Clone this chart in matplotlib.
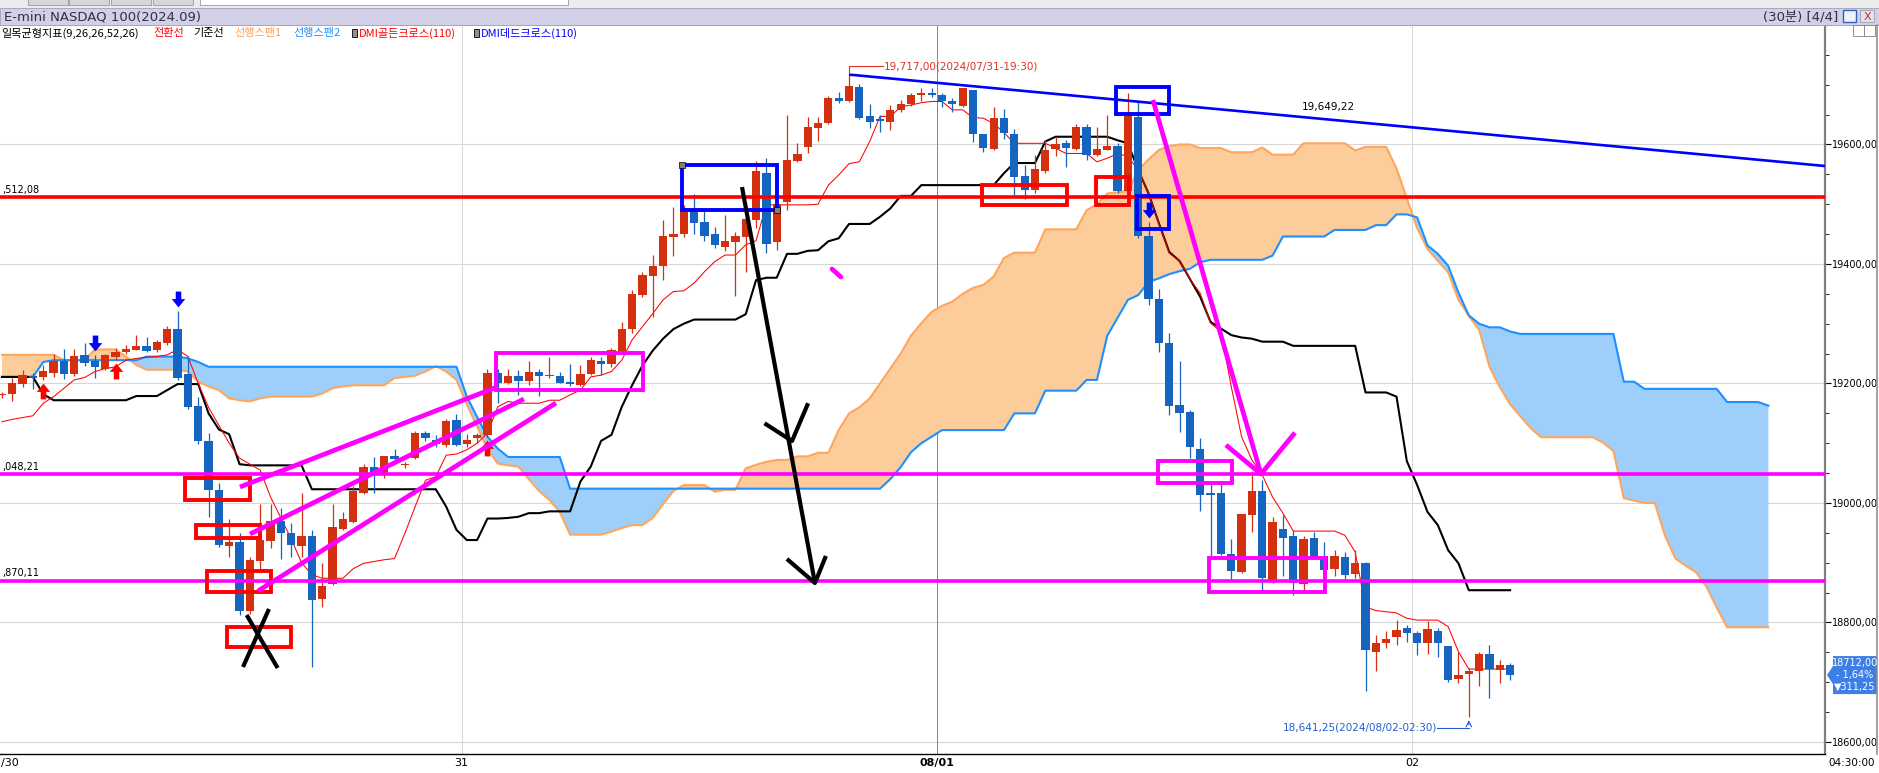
import numpy as np
import matplotlib
matplotlib.use("Agg")
import matplotlib.pyplot as plt
from matplotlib.patches import Rectangle, Polygon
from matplotlib.path import Path
from matplotlib import transforms

plt.rcParams['font.family'] = ['DejaVu Sans', 'Noto Sans CJK KR']

# ---------------- data (30분봉, bar 0 = 첫 봉 of 7/31) ----------------
first_bar = -44
opens = [19180, 19182, 19199, 19213, 19211, 19218, 19238, 19216, 19248, 19238,
         19225, 19244, 19252, 19256, 19263, 19256, 19268, 19291, 19216, 19162,
         19103, 19022, 18928, 18935, 18820, 18903, 18937, 18970, 18949, 18928,
         18945, 18839, 18865, 18957, 18969, 19017, 19061, 19048, 19079, 19063,
         19076, 19117, 19106, 19097, 19139, 19099, 19108, 19114, 19218, 19200,
         19212, 19205, 19220, 19212, 19212, 19202, 19197, 19216, 19238, 19232,
         19255, 19292, 19348, 19380, 19396, 19446, 19450, 19491, 19471, 19450,
         19429, 19437, 19446, 19474, 19553, 19436, 19503, 19573, 19595, 19628,
         19636, 19677, 19673, 19697, 19647, 19641, 19638, 19657, 19668, 19683,
         19687, 19683, 19673, 19665, 19692, 19617, 19592, 19644, 19617, 19547,
         19524, 19556, 19592, 19602, 19592, 19630, 19582, 19591, 19597, 19523,
         19646, 19447, 19341, 19267, 19164, 19152, 19091, 19016, 19016, 18915,
         18885, 18980, 19020, 18871, 18956, 18944, 18864, 18941, 18911, 18889,
         18909, 18881, 18899, 18751, 18765, 18775, 18790, 18782, 18766, 18786,
         18761, 18705, 18713, 18718, 18748, 18721, 18729]
highs = [19186, 19210, 19222, 19218, 19231, 19250, 19257, 19257, 19267, 19248,
         19250, 19259, 19264, 19281, 19278, 19273, 19296, 19322, 19246, 19178,
         19117, 19033, 18974, 18949, 18910, 18999, 18999, 18991, 18966, 19017,
         18955, 18900, 18999, 18985, 19028, 19066, 19077, 19079, 19091, 19068,
         19121, 19121, 19113, 19141, 19149, 19116, 19117, 19225, 19225, 19225,
         19222, 19238, 19225, 19244, 19220, 19232, 19231, 19244, 19244, 19260,
         19303, 19357, 19386, 19415, 19474, 19496, 19499, 19517, 19488, 19462,
         19482, 19454, 19485, 19572, 19577, 19507, 19649, 19603, 19646, 19646,
         19682, 19688, 19717, 19702, 19668, 19649, 19666, 19675, 19687, 19694,
         19694, 19686, 19677, 19694, 19692, 19617, 19663, 19660, 19626, 19566,
         19583, 19607, 19612, 19607, 19634, 19634, 19630, 19650, 19602, 19686,
         19672, 19471, 19358, 19284, 19238, 19156, 19108, 19034, 19036, 18939,
         18981, 19054, 19038, 18976, 18980, 18954, 18944, 18952, 18934, 18921,
         18918, 18921, 18902, 18779, 18785, 18804, 18796, 18785, 18803, 18790,
         18761, 18751, 18723, 18751, 18762, 18738, 18732]
lows = [19176, 19170, 19194, 19190, 19206, 19211, 19207, 19213, 19230, 19209,
        19222, 19239, 19250, 19256, 19253, 19253, 19264, 19206, 19158, 19099,
        18977, 18927, 18909, 18813, 18815, 18888, 18924, 18907, 18909, 18910,
        18725, 18826, 18863, 18955, 18967, 19015, 19016, 19041, 19066, 19058,
        19074, 19104, 19094, 19094, 19096, 19094, 19100, 19111, 19167, 19199,
        19181, 19197, 19179, 19210, 19200, 19195, 19196, 19214, 19214, 19228,
        19253, 19284, 19345, 19312, 19373, 19413, 19445, 19450, 19439, 19426,
        19422, 19346, 19387, 19460, 19419, 19424, 19491, 19570, 19585, 19606,
        19634, 19670, 19671, 19643, 19627, 19621, 19624, 19655, 19664, 19672,
        19680, 19663, 19655, 19663, 19605, 19588, 19590, 19609, 19515, 19508,
        19518, 19553, 19580, 19562, 19590, 19574, 19580, 19590, 19519, 19515,
        19443, 19331, 19253, 19147, 19118, 19076, 18987, 18911, 18913, 18871,
        18882, 18952, 18854, 18866, 18877, 18846, 18854, 18907, 18885, 18877,
        18872, 18874, 18686, 18718, 18757, 18762, 18768, 18746, 18747, 18743,
        18700, 18698, 18641.25, 18693, 18673, 18699, 18704]
closes = [19183, 19200, 19214, 19210, 19221, 19238, 19216, 19246, 19235, 19227,
          19248, 19253, 19258, 19263, 19255, 19270, 19292, 19210, 19161, 19103,
          19022, 18930, 18934, 18820, 18905, 18938, 18970, 18949, 18930, 18945,
          18837, 18861, 18959, 18973, 19020, 19061, 19051, 19079, 19073, 19066,
          19117, 19108, 19099, 19137, 19097, 19106, 19113, 19218, 19200, 19212,
          19205, 19220, 19212, 19215, 19201, 19199, 19216, 19239, 19232, 19256,
          19292, 19350, 19382, 19397, 19447, 19450, 19491, 19469, 19447, 19431,
          19438, 19447, 19475, 19555, 19433, 19501, 19574, 19584, 19629, 19636,
          19678, 19673, 19698, 19645, 19638, 19640, 19658, 19668, 19683, 19686,
          19683, 19672, 19667, 19694, 19617, 19594, 19645, 19619, 19546, 19524,
          19559, 19590, 19601, 19594, 19630, 19582, 19592, 19597, 19523, 19649,
          19447, 19341, 19268, 19163, 19151, 19093, 19013, 19013, 18915, 18887,
          18981, 19020, 18874, 18968, 18942, 18866, 18940, 18910, 18888, 18911,
          18879, 18899, 18754, 18765, 18773, 18787, 18782, 18766, 18789, 18765,
          18703, 18712, 18719, 18747, 18722, 18729, 18712]


def rle(items):
    out = []
    for it in items:
        if isinstance(it, tuple):
            out += [it[0]] * it[1]
        else:
            out.append(it)
    return np.array(out, dtype=float)


# 전환선 / 기준선 (same bars as candles)
tenkan = rle([19136, 19140, 19143, 19146, 19167, 19178, 19192, 19206, 19210, 19220,
              19225, 19228, 19239, 19242, 19244, 19245, 19248, 19257, 19245, 19200,
              19160, 19130, 19100, 19075, 19065, 19055, 19010, 18975, 18940, 18900,
              18880, (18874, 3), 18890, 18899, 18902, 18905, 18907, 18949, 18994,
              19038, 19044, 19080, 19082, 19089, 19100, 19117, 19161, 19170, (19167, 3),
              (19172, 2), 19181, 19189, 19211, 19214, 19220, 19239, 19273, 19295, 19317,
              19340, 19354, 19355, 19368, 19387, 19404, (19415, 2), 19432, 19439,
              (19499, 5), 19500, 19532, 19549, 19568, 19571, 19605, (19647, 2), 19663,
              19666, 19670, (19672, 2), (19658, 2), 19645, 19644, 19635, 19620, (19602, 4),
              19594, (19585, 3), 19571, 19577, 19585, 19580, 19557, 19518, 19468, 19418,
              19405, 19375, 19351, 19301, 19287, 19195, 19111, 19072, 19047, 19010,
              18983, (18953, 5), 18946, 18918, 18826, 18820, 18818, 18816, 18807,
              (18804, 3), 18793, 18751, (18722, 5)])
kijun = rle([(19211, 4), 19182, (19172, 8), (19179, 3), 19189, (19199, 3), 19150, 19123,
             19115, 19065, (19063, 6), (19023, 13), 18994, 18955, (18938, 2), (18974, 2),
             18975, 18977, (18983, 2), (18986, 3), 19036, 19061, 19104, 19114, 19161,
             19197, 19230, 19255, 19275, 19291, 19300, (19307, 5), 19316, 19373,
             (19377, 2), (19417, 2), 19422, 19423, 19438, 19443, (19467, 3), 19479, 19493,
             (19514, 2), (19532, 8), 19552, (19569, 3), 19605, (19613, 6), 19607, 19602,
             19557, 19518, 19468, 19420, 19405, 19375, 19345, 19303, 19292, 19281, 19277,
             19275, (19270, 3), (19263, 7), (19185, 3), 19178, 19070, 19030, 18985,
             18963, 18921, 18899, (18854, 5)])
# 선행스팬1 / 선행스팬2 (drawn 26 bars ahead, to bar 127)
span1 = rle([(19248, 6), (19239, 3), (19257, 3), 19245, 19231, (19223, 4), 19220, 19203,
             19195, 19189, 19175, 19172, 19170, 19175, (19178, 5), 19183, 19192, 19195,
             (19197, 4), 19209, 19211, 19213, 19220, 19229, 19220, 19206, 19165, 19128,
             19090, 19066, 19063, 19061, 19040, 19020, 19005, 18985, (18947, 4), 18952,
             18958, (18963, 2), 18975, 18998, 19020, (19030, 3), 19019, (19022, 2), 19058,
             19064, 19069, (19072, 2), (19078, 2), (19084, 2), 19122, 19150, 19160, 19175,
             19200, 19225, 19250, 19280, 19301, 19320, 19330, 19337, 19350, 19360, 19365,
             19379, 19410, (19419, 3), (19458, 4), 19490, 19500, 19518, 19520, 19522,
             19557, 19575, 19591, 19597, (19600, 2), (19594, 3), (19587, 3), 19595,
             (19583, 3), (19602, 5), 19590, (19596, 3), 19560, 19510, 19460, 19425, 19405,
             19386, 19340, 19313, 19290, 19228, 19194, 19165, 19145, 19125, (19110, 6),
             19101, 19087, 19008, 19004, (19000, 2), 18945, 18907, 18895, 18884, 18860,
             18825, (18792, 5)])
span2 = rle([(19211, 4), 19236, (19239, 9), (19245, 4), 19242, 19236, (19228, 25), 19178,
             19144, 19111, 19091, (19077, 6), (19024, 31), 19040, 19060, 19085, 19100,
             19111, (19122, 7), (19150, 3), (19188, 4), (19206, 2), 19280, 19310, 19340,
             19348, 19370, 19376, 19383, 19388, 19392, 19403, (19407, 6), 19414,
             (19446, 5), (19457, 4), (19465, 2), (19483, 2), 19478, 19431, 19417, 19397,
             19352, 19314, 19300, (19294, 2), 19287, (19283, 10), (19203, 2), (19191, 8),
             (19169, 4), 19163])

golden_cross_bars = [-40, -33, 3]
dead_cross_bars = [-35, -27, 67]
day_bounds = [0.5, 46.5, 92.5]
day_labels = ['31', '08/01', '02']
level_prices = [19512.08, 19048.21, 18870.11]
level_texts = [',512,08', ',048,21', ',870,11']
level_colors = ['#FF0000', '#FF00FF', '#FF00FF']
high_text = '19,717,00(2024/07/31-19:30)'
low_text = '18,641,25(2024/08/02-02:30)'
trend_start = (38, 19717.0)
trend_end_price = 19564.0
trend_text = '19,649,22'

# hand drawn marks (bar index, price)
red_boxes = [(-26.28, 19005.0, -19.99, 19041.8), (-25.22, 18940.9, -19.02, 18963.2),
             (-24.18, 18851.5, -17.96, 18886.2), (-22.25, 18759.5, -16.02, 18793.0),
             (50.84, 19498.7, 59.07, 19532.2), (61.87, 19498.7, 65.13, 19545.1)]
blue_boxes = [(21.80, 19490.4, 31.0, 19565.7), (63.84, 19650.5, 69.0, 19695.7),
              (65.9, 19458.0, 69.0, 19514.3)]
magenta_boxes = [(3.82, 19189.1, 18.08, 19251.5), (67.93, 19033.0, 75.03, 19070.8),
                 (72.86, 18851.5, 84.03, 18907.4)]
magenta_strokes = [[(-20.96, 19026.8), (3.92, 19194.1)],
                   [(-19.99, 18948.1), (6.53, 19174.0)],
                   [(-19.22, 18852.7), (9.63, 19167.4)],
                   [(67.42, 19674.5), (77.88, 19048.5)],
                   [(74.49, 19097.0), (77.88, 19048.5), (81.17, 19117.6)]]
magenta_dash = [(36.35, 19391.6), (37.22, 19378.2)]
black_strokes = [[(27.64, 19528.8), (34.70, 18866.1)],
                 [(29.82, 19133.4), (32.48, 19103.8), (34.04, 19166.9)],
                 [(31.99, 18906.3), (34.70, 18866.1), (35.76, 18911.3)],
                 [(-20.31, 18812.5), (-17.31, 18723.8)],
                 [(-18.15, 18822.6), (-20.67, 18725.5)]]

# ---------------- figure ----------------
W, H = 1879, 773
RED = '#D2300E'
BLUE = '#1565C0'
fig = plt.figure(figsize=(W / 100, H / 100), dpi=100, facecolor='white')
ax = fig.add_axes([0, (H - 754) / H, 1825 / W, (754 - 25) / H])
ax.set_xlim(-44.19, 132.48)
ax.set_ylim(18579.9, 19800)

bars = np.arange(first_bar, first_bar + len(opens))
o = np.array(opens, float); h = np.array(highs, float)
l = np.array(lows, float); c = np.array(closes, float)

# grid
for p in range(18600, 19801, 200):
    ax.axhline(p, color='#D6D6D6', lw=0.8, zorder=0)
for xb in day_bounds:
    ax.axvline(xb, color='#FF5050' if xb == 46.5 else '#D6D6D6', lw=0.7, zorder=0)

# cloud
xs = np.arange(first_bar, first_bar + len(span1))
ax.fill_between(xs, span1, span2, where=span1 >= span2, interpolate=True,
                color='#FDCC9B', lw=0, zorder=1)
ax.fill_between(xs, span1, span2, where=span1 < span2, interpolate=True,
                color='#9ECFFA', lw=0, zorder=1)
ax.plot(xs, span1, color='#FFA65C', lw=1.5, zorder=2)
ax.plot(xs, span2, color='#1E8FFF', lw=1.5, zorder=2)
ax.plot(bars, kijun, color='black', lw=1.5, zorder=2)
ax.plot(bars, tenkan, color='#FF0000', lw=0.75, zorder=2)

# candles
cols = np.where(c >= o, RED, BLUE)
ax.vlines(bars, l, h, colors=cols, lw=0.9, zorder=3)
body_lo = np.minimum(o, c)
body_h = np.maximum(np.abs(c - o), 2.0)
ax.bar(bars, body_h, width=0.8, bottom=body_lo, color=cols, lw=0, zorder=3)

# DMI signals
arrow_dn = Path([(-0.35, 1), (0.35, 1), (0.35, 0.05), (0.85, 0.05), (0, -1),
                 (-0.85, 0.05), (-0.35, 0.05), (-0.35, 1)], closed=True)
arrow_up = Path([(x, -y) for x, y in arrow_dn.vertices], closed=True)
gb = np.array(golden_cross_bars); db = np.array(dead_cross_bars)
up_tr = transforms.offset_copy(ax.transData, fig=fig, x=0, y=-11, units='dots')
dn_tr = transforms.offset_copy(ax.transData, fig=fig, x=0, y=12, units='dots')
ax.scatter(gb, l[gb - first_bar], marker=arrow_up, s=130, color='#FF0000',
           transform=up_tr, zorder=4, lw=0)
ax.scatter(db, h[db - first_bar], marker=arrow_dn, s=130, color='#0000FF',
           transform=dn_tr, zorder=4, lw=0)

# horizontal levels
lab_tr = transforms.blended_transform_factory(ax.transAxes, ax.transData)
for p, t, col in zip(level_prices, level_texts, level_colors):
    ax.axhline(p, color=col, lw=2.6, zorder=6)
    ax.text(2 / 1825, p + 4, t, transform=lab_tr, ha='left', va='bottom',
            fontsize=7, color='black', zorder=7)

# trend line
ax.plot([trend_start[0], 132.48], [trend_start[1], trend_end_price], color='#0000FF',
        lw=1.9, zorder=6, solid_capstyle='butt')
ax.text(84.4, 19663, trend_text, fontsize=7.5, ha='center', va='center', zorder=7)

# high / low labels
hb = int(np.argmax(h)); lb = int(np.argmin(l))
ax.plot([bars[hb], bars[hb], 41.3], [h[hb] + 2, h[hb] + 14, h[hb] + 14],
        color='#E03020', lw=0.8, zorder=6)
ax.text(41.4, h[hb] + 14, high_text, color='#E03020', fontsize=7.5, va='center',
        ha='left', zorder=7)
ax.annotate('', xy=(bars[lb], l[lb]), xytext=(bars[lb], l[lb] - 17),
            arrowprops=dict(arrowstyle='->', color='#2060D0', lw=0.8), zorder=7)
ax.plot([94.9, bars[lb]], [l[lb] - 17, l[lb] - 17], color='#2060D0', lw=0.8, zorder=6)
ax.text(94.9, l[lb] - 17, low_text, color='#2060D0', fontsize=7.5, va='center',
        ha='right', zorder=7)

# drawings
for x0, y0, x1, y1 in red_boxes:
    ax.add_patch(Rectangle((x0, y0), x1 - x0, y1 - y0, fill=False, ec='#FF0000',
                           lw=2.8, zorder=8))
for x0, y0, x1, y1 in blue_boxes:
    ax.add_patch(Rectangle((x0, y0), x1 - x0, y1 - y0, fill=False, ec='#0000FF',
                           lw=2.8, zorder=8))
for x0, y0, x1, y1 in magenta_boxes:
    ax.add_patch(Rectangle((x0, y0), x1 - x0, y1 - y0, fill=False, ec='#FF00FF',
                           lw=2.8, zorder=8))
bx = blue_boxes[0]
ax.scatter([bx[0], bx[2]], [bx[3], bx[1]], marker='s', s=16, color='#808080',
           edgecolors='black', lw=0.5, zorder=9)
for s in magenta_strokes:
    xx, yy = zip(*s)
    ax.plot(xx, yy, color='#FF00FF', lw=3.4, zorder=8, solid_capstyle='butt')
xx, yy = zip(*magenta_dash)
ax.plot(xx, yy, color='#FF00FF', lw=3.4, zorder=8, solid_capstyle='round')
for s in black_strokes:
    xx, yy = zip(*s)
    ax.plot(xx, yy, color='black', lw=3.0, zorder=8, solid_capstyle='butt')

# axes styling
ax.set_facecolor('white')
for sp in ['left', 'top']:
    ax.spines[sp].set_visible(False)
ax.spines['bottom'].set_color('black')
ax.spines['bottom'].set_linewidth(1.0)
ax.spines['right'].set_color('#808080')
ax.spines['right'].set_linewidth(1.6)
ax.yaxis.tick_right()
ax.set_yticks(np.arange(18600, 19601, 200))
ax.set_yticklabels(['%d,00' % v for v in range(18600, 19601, 200)])
ax.set_yticks(np.arange(18600, 19801, 50), minor=True)
ax.tick_params(axis='y', which='major', length=4, pad=1, labelsize=7, colors='black')
ax.tick_params(axis='y', which='minor', length=3, colors='black')
ax.set_xticks(day_bounds)
ax.set_xticklabels(day_labels)
ax.tick_params(axis='x', length=0, pad=3, labelsize=8)
ax.get_xticklabels()[1].set_fontweight('bold')


# ---------------- window chrome (pixel helpers) ----------------
def fbox(x0, y0, x1, y1, **kw):
    fig.add_artist(Rectangle((x0 / W, 1 - y1 / H), (x1 - x0) / W, (y1 - y0) / H,
                             transform=fig.transFigure, **kw))


def ftext(x, y, s, **kw):
    fig.text(x / W, 1 - y / H, s, **kw)


fbox(0, 0, W, 8, facecolor='#ECECEC', lw=0)
for tx in [28, 69, 111, 153]:
    fbox(tx, -2, tx + 40, 5, facecolor='#D6D6D6', edgecolor='#9A9A9A', lw=0.6)
fbox(200, -2, 568, 5, facecolor='white', edgecolor='#9A9A9A', lw=0.6)
fbox(0, 8, W, 25, facecolor='#D2D0E6', edgecolor='#A09EB8', lw=0.6)
ftext(4, 16.5, 'E-mini NASDAQ 100(2024.09)', fontsize=9.5, color='#303040',
      va='center', ha='left')
ftext(1838, 16.5, '(30분) [4/4]', fontsize=9.5, color='#303040', va='center', ha='right')
fbox(1843, 10, 1856, 22, facecolor='#EEF2FC', edgecolor='#3060C0', lw=1.0)
fbox(1860, 10, 1874, 22, facecolor='#E2E2EA', edgecolor='#A0A0A8', lw=0.6)
ftext(1867, 16.5, 'X', fontsize=8, color='#C03030', ha='center', va='center')
fbox(1853, 25, 1864, 36, facecolor='white', edgecolor='#808080', lw=0.6)
fbox(1864, 25, 1875, 36, facecolor='white', edgecolor='#808080', lw=0.6)
fig.add_artist(plt.Line2D([1877 / W, 1877 / W], [1 - 754 / H, 1 - 25 / H],
                          transform=fig.transFigure, color='#909090', lw=1.2))

# legend line
leg = [(1, '일목균형지표(9,26,26,52,26)', 'black'), (153, '전환선', '#FF0000'),
       (193, '기준선', 'black'), (234, '선행스팬1', '#FFA050'),
       (293, '선행스팬2', '#1E8FFF'), (359, 'DMI골든크로스(110)', '#FF0000'),
       (481, 'DMI데드크로스(110)', '#0000FF')]
for x0, s, col in leg:
    ftext(x0, 33, s, fontsize=8, color=col, va='center', ha='left',
          family=['Noto Sans CJK KR', 'DejaVu Sans'])
for ix in [352, 474]:
    fbox(ix, 29, ix + 5, 37, facecolor='#909090', edgecolor='black', lw=0.6)

# x-axis extra labels
ftext(1, 763, '/30', fontsize=8, ha='left', va='center')
ftext(1852, 763, '04:30:00', fontsize=7.5, ha='center', va='center')

# current price box
yc = H - ax.transData.transform((0, c[-1]))[1]
pts = [(1833, yc - 19), (1877, yc - 19), (1877, yc + 19), (1833, yc + 19),
       (1833, yc + 9), (1827, yc), (1833, yc - 9)]
fig.add_artist(Polygon([(x / W, 1 - y / H) for x, y in pts], closed=True,
                       transform=fig.transFigure, facecolor='#3D7FE6', lw=0))
ftext(1855, yc - 12, '%d,00' % int(c[-1]), fontsize=7, color='white',
      ha='center', va='center')
ftext(1855, yc, '- 1,64%', fontsize=7, color='white', ha='center', va='center')
ftext(1855, yc + 12, '▼311,25', fontsize=7, color='white', ha='center', va='center')

fig.savefig('out.png', dpi=100, facecolor='white')
